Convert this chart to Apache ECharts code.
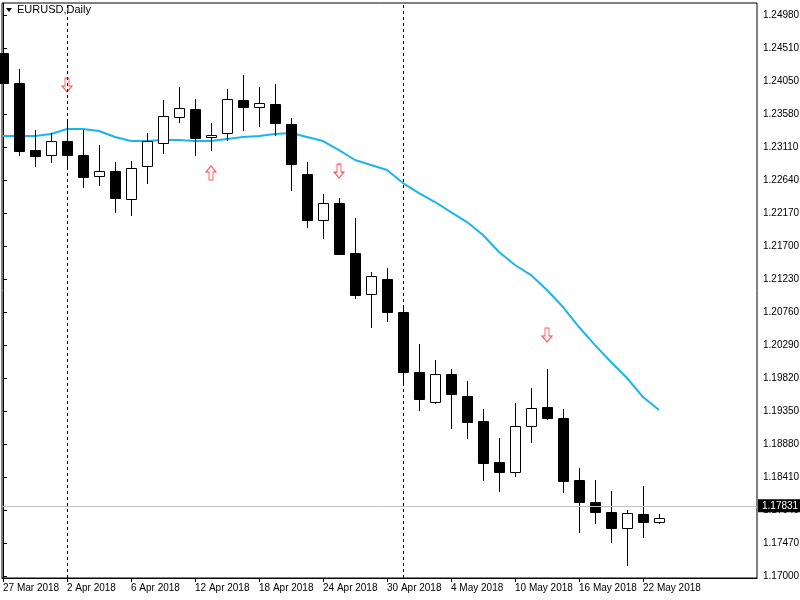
<!DOCTYPE html>
<html>
<head>
<meta charset="utf-8">
<script src="https://cdn.jsdelivr.net/npm/echarts@6/dist/echarts.min.js"></script>
<style>html,body{margin:0;padding:0;background:#fff}#chart{width:800px;height:600px}</style>
</head>
<body>
<div id="chart"></div>
<script>
// open, close, low, high per daily bar (27 Mar .. 23 May 2018)
const opens  = [1.24448,1.24020,1.23066,1.22995,1.23194,1.22995,1.22696,1.22767,1.22368,1.22838,1.23166,1.23536,1.23650,1.23251,1.23308,1.23778,1.23679,1.23721,1.23436,1.22724,1.22069,1.22312,1.21600,1.21016,1.21229,1.20759,1.19905,1.19478,1.19876,1.19563,1.19207,1.18623,1.18481,1.19136,1.19407,1.19250,1.18367,1.18054,1.17911,1.17684,1.17883,1.17769];
const closes = [1.24020,1.23052,1.22981,1.23194,1.22995,1.22682,1.22767,1.22383,1.22810,1.23194,1.23550,1.23664,1.23237,1.23280,1.23792,1.23679,1.23736,1.23451,1.22867,1.22069,1.22312,1.21585,1.21001,1.21272,1.20759,1.19905,1.19520,1.19876,1.19592,1.19193,1.18609,1.18481,1.19136,1.19392,1.19250,1.18353,1.18054,1.17911,1.17684,1.17897,1.17769,1.17831];
const lows   = [1.23721,1.22981,1.22824,1.22881,1.22781,1.22525,1.22554,1.22169,1.22126,1.22582,1.23009,1.23451,1.22981,1.23052,1.23194,1.23337,1.23394,1.23266,1.22482,1.21956,1.21799,1.21571,1.20944,1.20532,1.20617,1.19748,1.19350,1.19449,1.19093,1.18951,1.18353,1.18196,1.18410,1.18894,1.19222,1.18182,1.17612,1.17740,1.17470,1.17142,1.17541,1.17740];
const highs  = [1.24761,1.24220,1.23351,1.23308,1.23465,1.23351,1.23137,1.22895,1.22910,1.23308,1.23778,1.23963,1.23792,1.23451,1.23935,1.24134,1.23963,1.24006,1.23522,1.22895,1.22440,1.22383,1.22098,1.21329,1.21386,1.20831,1.20304,1.20076,1.19948,1.19777,1.19378,1.18965,1.19464,1.19677,1.19948,1.19378,1.18538,1.18367,1.18210,1.17940,1.18282,1.17883];
const maValues = [1.23266,1.23266,1.23266,1.23294,1.23365,1.23365,1.23337,1.23251,1.23194,1.23194,1.23209,1.23209,1.23194,1.23194,1.23223,1.23251,1.23266,1.23294,1.23308,1.23251,1.23194,1.23066,1.22924,1.22853,1.22781,1.22596,1.22454,1.22326,1.22183,1.22041,1.21856,1.21614,1.21429,1.21286,1.21073,1.20831,1.20546,1.20289,1.20047,1.19820,1.19549,1.19364];

const dateTickIdx = [0,4,8,12,16,20,24,28,32,36,40];
const dateLabels = ['27 Mar 2018','2 Apr 2018','6 Apr 2018','12 Apr 2018','18 Apr 2018','24 Apr 2018','30 Apr 2018','4 May 2018','10 May 2018','16 May 2018','22 May 2018'];
const separatorIdx = [4,25];

const priceTicks = [1.17000,1.17470,1.17940,1.18410,1.18880,1.19350,1.19820,1.20290,1.20760,1.21230,1.21700,1.22170,1.22640,1.23110,1.23580,1.24050,1.24510,1.24980];
const lastPrice = 1.17831;

const arrowsDown = [[4,1.23992],[21,1.22767],[34,1.20432]];
const arrowsUp = [[13,1.22739]];

const candles = opens.map((o, i) => [i, o, closes[i], lows[i], highs[i]]);
const maData = maValues.map((v, i) => [i, v]);

const downArrow = 'path://M3,0 L7,0 L7,8 L10,8 L5,14 L0,8 L3,8 Z';
const upArrow = 'path://M5,0 L10,6 L7,6 L7,14 L3,14 L3,6 L0,6 Z';

const chart = echarts.init(document.getElementById('chart'));

function renderCandle(params, api) {
    const x = api.value(0);
    const o = api.value(1), c = api.value(2), l = api.value(3), h = api.value(4);
    const pO = api.coord([x, o]), pC = api.coord([x, c]);
    const pL = api.coord([x, l]), pH = api.coord([x, h]);
    const cx = Math.round(pO[0]) + 0.5;
    const top = Math.round(Math.min(pO[1], pC[1])) + 0.5;
    const bot = Math.max(Math.round(Math.max(pO[1], pC[1])) + 0.5, top + 2);
    const bull = c >= o;
    return {
        type: 'group',
        children: [
            { type: 'line', shape: { x1: cx, y1: pH[1], x2: cx, y2: pL[1] }, style: { stroke: '#000', lineWidth: 1 } },
            { type: 'rect', shape: { x: cx - 5, y: top, width: 10, height: bot - top },
              style: { fill: bull ? '#fff' : '#000', stroke: '#000', lineWidth: 1 } }
        ]
    };
}

chart.setOption({
    animation: false,
    backgroundColor: '#fff',
    textStyle: { fontFamily: 'Liberation Sans' },
    grid: { left: 2, top: 3, right: 43, bottom: 22, outerBoundsMode: 'none', containLabel: false,
            show: true, borderColor: '#000', borderWidth: 1 },
    graphic: [
        { type: 'polygon', shape: { points: [[6, 8], [12, 8], [9, 12]] }, style: { fill: '#000' } },
        { type: 'text', left: 17, top: 4, style: { text: 'EURUSD,Daily', font: '11px "Liberation Sans"', fill: '#000' } }
    ],
    xAxis: {
        type: 'value', min: -0.0625, max: 47.125,
        splitLine: { show: false },
        axisLine: { lineStyle: { color: '#000' } },
        axisTick: { show: true, customValues: dateTickIdx, length: 4, lineStyle: { color: '#000' } },
        axisLabel: {
            customValues: dateTickIdx, color: '#000', fontSize: 10, align: 'left', margin: 5,
            formatter: v => dateLabels[dateTickIdx.indexOf(Math.round(v))] || ''
        }
    },
    yAxis: {
        type: 'value', position: 'right', min: 1.16972, max: 1.25160, scale: true,
        splitLine: { show: false },
        axisLine: { show: true, lineStyle: { color: '#000' } },
        axisTick: { show: true, customValues: priceTicks, length: 4, lineStyle: { color: '#000' } },
        axisLabel: { customValues: priceTicks, color: '#000', fontSize: 10, margin: 6, formatter: v => v.toFixed(5) }
    },
    series: [
        {
            type: 'custom', renderItem: renderCandle, data: candles, encode: { x: 0, y: [1, 2, 3, 4] }, z: 3,
            markLine: {
                silent: true, symbol: 'none', animation: false,
                data: separatorIdx.map(i => ({ xAxis: i, lineStyle: { color: '#000', type: [3, 3], width: 1 }, label: { show: false } }))
                    .concat([{ yAxis: lastPrice, lineStyle: { color: '#c0c0c0', type: 'solid', width: 1 },
                        label: { show: true, position: 'end', formatter: lastPrice.toFixed(5), color: '#fff', backgroundColor: '#000',
                            fontSize: 10, padding: [2, 4, 1, 4], distance: 1 } }])
            }
        },
        {
            type: 'line', data: maData, showSymbol: false, z: 2,
            lineStyle: { color: '#1ab4f0', width: 2 }
        },
        {
            type: 'scatter', data: arrowsDown, symbol: downArrow, symbolSize: [10, 14], z: 4,
            itemStyle: { color: '#fff', borderColor: '#ff2020', borderWidth: 1 }
        },
        {
            type: 'scatter', data: arrowsUp, symbol: upArrow, symbolSize: [10, 14], z: 4,
            itemStyle: { color: '#fff', borderColor: '#ff2020', borderWidth: 1 }
        }
    ]
});
</script>
</body>
</html>
